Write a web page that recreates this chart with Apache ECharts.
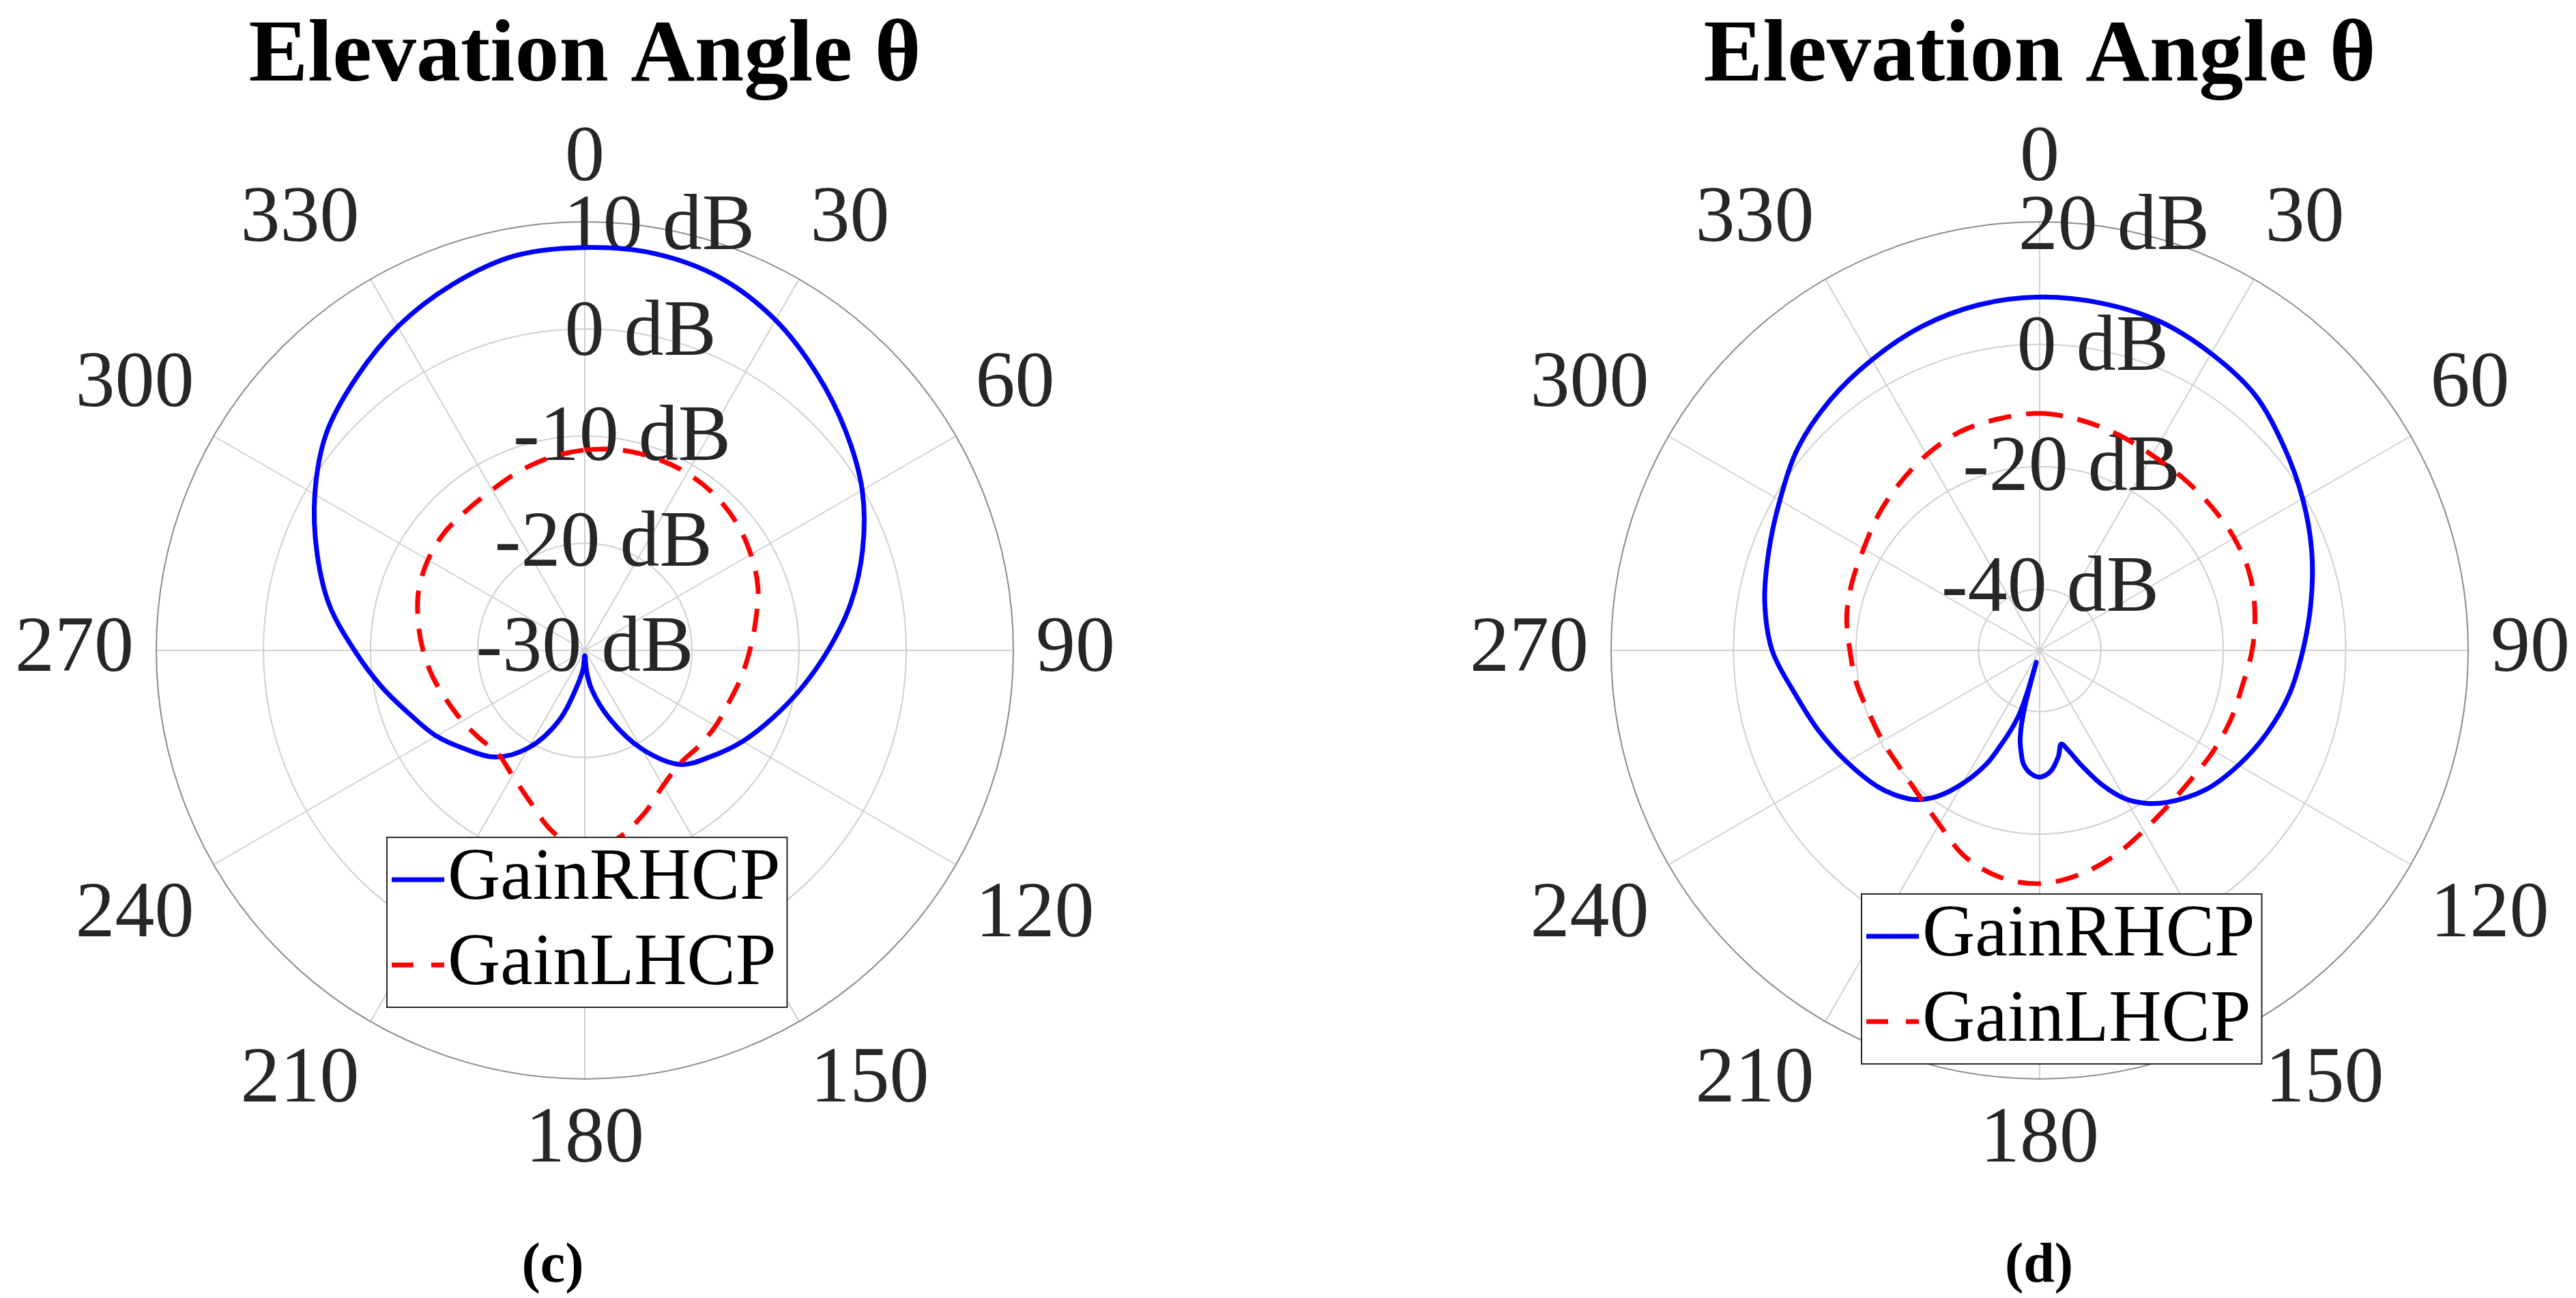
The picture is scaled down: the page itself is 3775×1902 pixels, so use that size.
<!DOCTYPE html>
<html>
<head>
<meta charset="utf-8">
<title>Elevation Angle</title>
<script src="https://cdn.jsdelivr.net/npm/echarts@6/dist/echarts.min.js"></script>
<style>
html, body { margin: 0; padding: 0; background: #fff; }
#chart { width: 3775px; height: 1902px; }
</style>
</head>
<body>
<div id="chart"></div>
<script>
// (c) gain in dB against elevation angle in degrees
var cRhcpAngle = [0, 10, 20, 30, 40, 50, 60, 70, 80, 90, 100, 110, 120, 130, 140, 150, 160, 170, 175, 180,
  185, 190, 200, 210, 220, 230, 240, 250, 260, 270, 280, 290, 300, 310, 320, 330, 340, 350, 360];
var cRhcpGain = [7.6, 7.6, 7.0, 5.6, 3.7, 1.8, -0.1, -2.4, -4.8, -7.3, -9.5, -11.4, -13.0, -14.6, -16.1, -19.4, -23.2, -26.3, -28.0, -29.5,
  -28.3, -27.2, -23.1, -19.5, -17.0, -15.6, -14.0, -12.6, -10.7, -8.5, -5.8, -3.4, -0.9, 1.5, 3.2, 4.9, 6.3, 7.4, 7.6];
var cLhcpAngle = [0, 10, 20, 30, 40, 50, 60, 70, 80, 90, 100, 110, 120, 130, 140, 150, 160, 170, 180,
  190, 200, 210, 220, 230, 240, 250, 260, 270, 280, 290, 300, 310, 320, 330, 340, 350, 360];
var cLhcpGain = [-11.3, -11.0, -10.9, -10.9, -11.1, -11.5, -12.1, -12.8, -13.8, -14.6, -15.2, -15.7, -15.9, -16.1, -16.2, -15.4, -13.8, -12.2, -11.3,
  -12.8, -15.0, -16.5, -17.4, -17.2, -16.8, -16.3, -15.6, -14.9, -14.2, -13.5, -13.1, -12.9, -12.9, -12.7, -12.2, -11.7, -11.3];

// (d)
var dRhcpAngle = [0, 10, 20, 30, 40, 50, 60, 70, 80, 90, 100, 110, 120, 130, 140, 145, 150, 155, 160, 164, 167,
  170, 175, 180, 184, 188, 190, 192, 193.5, 194.5, 195.3, 195.8, 196.3, 197, 198, 200, 202.5, 205, 210, 215, 220, 225,
  230, 240, 250, 260, 270, 280, 290, 300, 310, 320, 330, 340, 350, 360];
var dRhcpGain = [7.7, 7.6, 7.2, 6.0, 4.6, 2.0, -0.4, -2.7, -5.0, -7.0, -8.6, -10.5, -12.5, -14.6, -17.6, -19.5, -22.0, -25.7, -30.0, -33.0, -34.3,
  -32.4, -30.1, -29.3, -29.8, -31.2, -32.8, -34.7, -37.0, -39.5, -43.5, -48.0, -43.5, -40.5, -38.5, -36.0, -33.0, -29.6, -24.9, -20.9, -18.2, -16.6,
  -15.4, -13.6, -11.6, -9.4, -6.3, -4.4, -2.9, -1.0, 1.5, 3.3, 4.8, 6.3, 7.3, 7.7];
var dLhcpAngle = [0, 10, 20, 30, 40, 50, 60, 70, 80, 90, 100, 110, 120, 130, 140, 150, 160, 170, 180,
  190, 200, 210, 220, 230, 240, 250, 260, 270, 280, 290, 300, 310, 320, 330, 340, 350, 360];
var dLhcpGain = [-11.3, -11.8, -12.5, -13.2, -13.4, -13.4, -13.3, -13.5, -14.3, -15.3, -16.4, -16.8, -17.2, -17.5, -17.1, -16.0, -14.3, -12.8, -11.9,
  -12.4, -14.2, -17.2, -19.2, -20.2, -20.4, -20.3, -19.6, -19.0, -18.0, -17.4, -16.8, -15.6, -14.4, -13.1, -12.0, -11.6, -11.3];

// rings that carry a label
var cRingTicks = [-30, -20, -10, 0, 10];
var dRingTicks = [-40, -20, 0, 20];

var serif = "'Liberation Serif', 'Times New Roman', serif";
var gridColor = '#d0d0d0';
var blue = '#0000ff';
var red = '#ff0000';

function pairs(gain, angle) {
  return gain.map(function (g, i) { return [g, angle[i]]; });
}

// closed centripetal Catmull-Rom through pixel points (last point repeats the first)
function closedSpline(pts) {
  var m = pts.length - 1;
  function P(k) { return pts[((k % m) + m) % m]; }
  function len(a, b) { return Math.sqrt(Math.pow(a[0] - b[0], 2) + Math.pow(a[1] - b[1], 2)); }
  var d = 'M' + pts[0][0].toFixed(2) + ' ' + pts[0][1].toFixed(2);
  for (var i = 0; i < m; i++) {
    var p0 = P(i - 1), p1 = P(i), p2 = P(i + 1), p3 = P(i + 2);
    var d1 = Math.sqrt(len(p0, p1)), d2 = Math.sqrt(len(p1, p2)), d3 = Math.sqrt(len(p2, p3));
    var b1 = p1, b2 = p2;
    if (d1 > 1e-6 && d2 > 1e-6) {
      b1 = [0, 1].map(function (k) {
        return (d1 * d1 * p2[k] - d2 * d2 * p0[k] + (2 * d1 * d1 + 3 * d1 * d2 + d2 * d2) * p1[k]) / (3 * d1 * (d1 + d2));
      });
    }
    if (d3 > 1e-6 && d2 > 1e-6) {
      b2 = [0, 1].map(function (k) {
        return (d3 * d3 * p1[k] - d2 * d2 * p3[k] + (2 * d3 * d3 + 3 * d3 * d2 + d2 * d2) * p2[k]) / (3 * d3 * (d3 + d2));
      });
    }
    d += ' C' + b1[0].toFixed(2) + ' ' + b1[1].toFixed(2) + ' ' + b2[0].toFixed(2) + ' ' + b2[1].toFixed(2) +
      ' ' + p2[0].toFixed(2) + ' ' + p2[1].toFixed(2);
  }
  return d;
}

function gridAngle(i) {
  return {
    polarIndex: i, type: 'value', min: 0, max: 360, interval: 30,
    startAngle: 90, clockwise: true,
    axisLine: { show: true, lineStyle: { color: '#8c8c8c', width: 2 } },
    axisTick: { show: false },
    axisLabel: {
      margin: 33, fontSize: 116, fontFamily: serif, color: '#262626',
      formatter: function (v) { return v === 360 ? '' : String(v); }
    },
    splitLine: { show: true, lineStyle: { color: gridColor, width: 2 } }
  };
}

// second polar only carries the dB labels along the 10 degree ray
function labelAngle(i) {
  return { polarIndex: i, type: 'value', min: 0, max: 360, startAngle: 80, clockwise: true, show: false };
}

function gridRadius(i, min, max, ticks) {
  var colors = [];
  for (var v = min; v <= max; v += 10) {
    colors.push(ticks.indexOf(v) >= 0 && v !== max ? gridColor : 'rgba(0,0,0,0)');
  }
  return {
    polarIndex: i, type: 'value', min: min, max: max, interval: 10,
    axisLine: { show: false }, axisTick: { show: false }, axisLabel: { show: false },
    splitLine: { show: true, lineStyle: { color: colors, width: 2 } }
  };
}

function labelRadius(i, min, max, ticks) {
  return {
    polarIndex: i, type: 'value', min: min, max: max, interval: 10,
    axisLine: { show: false }, axisTick: { show: false }, splitLine: { show: false },
    axisLabel: {
      show: true, margin: 0, align: 'center', verticalAlign: 'middle',
      fontSize: 116, fontFamily: serif, color: '#262626',
      formatter: function (v) { return ticks.indexOf(v) >= 0 ? v + ' dB' : ''; }
    }
  };
}

function curve(name, polarIndex, gain, angle, color, dash) {
  return {
    name: name, type: 'custom', coordinateSystem: 'polar', polarIndex: polarIndex,
    data: pairs(gain, angle), silent: true,
    itemStyle: { color: color },
    renderItem: function (params, api) {
      if (params.dataIndexInside !== 0) return;
      var pts = [];
      for (var j = 0; j < params.dataInsideLength; j++) {
        pts.push(api.coord([api.value(0, j), api.value(1, j)]));
      }
      return {
        type: 'path',
        shape: { pathData: closedSpline(pts) },
        style: { fill: 'none', stroke: color, lineWidth: 7, lineDash: dash, lineJoin: 'round' }
      };
    }
  };
}

function legendAt(left, top) {
  return {
    data: [
      { name: 'GainRHCP', icon: 'path://M0 0H77V7H0Z' },
      { name: 'GainLHCP', icon: 'path://M0 0H32V7H0Z M58 0H77V7H58Z' }
    ],
    orient: 'vertical', left: left, top: top,
    selectedMode: false, itemWidth: 77, itemHeight: 7, itemGap: 5,
    padding: [2, 10, 2, 7],
    backgroundColor: '#fff', borderColor: '#262626', borderWidth: 2, borderRadius: 0,
    textStyle: { fontSize: 107, fontFamily: serif, color: '#000', lineHeight: 120 }
  };
}

function heading(text, x, y, size) {
  return {
    text: text, left: x, top: y, textAlign: 'center', padding: 0,
    textStyle: { fontSize: size, lineHeight: size, fontFamily: serif, fontWeight: 'bold', color: '#000' }
  };
}

var chart = echarts.init(document.getElementById('chart'));
chart.setOption({
  animation: false,
  backgroundColor: '#fff',
  title: [
    heading('Elevation Angle θ', 857, 19, 130),
    heading('Elevation Angle θ', 2989, 19, 130),
    heading('(c)', 810, 1816, 82),
    heading('(d)', 2988, 1816, 82)
  ],
  legend: [legendAt(567, 1227), legendAt(2728, 1310)],
  polar: [
    { center: [857, 953], radius: 628 },
    { center: [857, 953], radius: 628 },
    { center: [2989, 953], radius: 628 },
    { center: [2989, 953], radius: 628 }
  ],
  angleAxis: [gridAngle(0), labelAngle(1), gridAngle(2), labelAngle(3)],
  radiusAxis: [
    gridRadius(0, -30, 10, cRingTicks),
    labelRadius(1, -30, 10, cRingTicks),
    gridRadius(2, -50, 20, dRingTicks),
    labelRadius(3, -50, 20, dRingTicks)
  ],
  series: [
    curve('GainRHCP', 0, cRhcpGain, cRhcpAngle, blue, null),
    curve('GainLHCP', 0, cLhcpGain, cLhcpAngle, red, [34, 22]),
    curve('GainRHCP', 2, dRhcpGain, dRhcpAngle, blue, null),
    curve('GainLHCP', 2, dLhcpGain, dLhcpAngle, red, [34, 22])
  ]
});
</script>
</body>
</html>
